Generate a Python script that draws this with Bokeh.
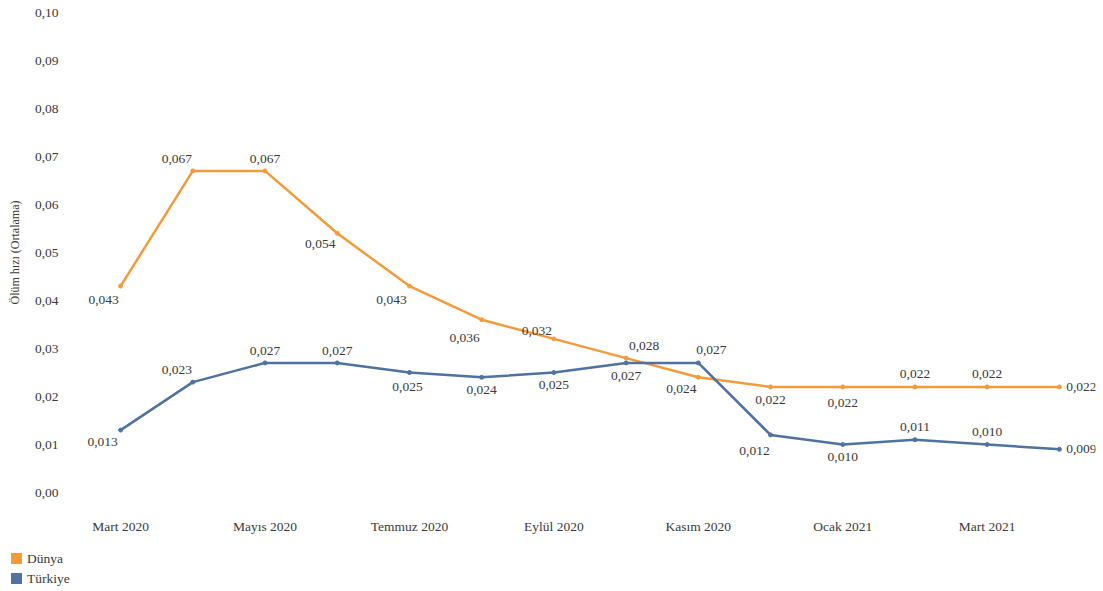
from bokeh.plotting import figure
from bokeh.layouts import column
from bokeh.models import (ColumnDataSource, Range1d, FixedTicker, LabelSet, Div)
from bokeh.embed import file_html
from bokeh.resources import INLINE

months = ["Mart 2020", "Nisan 2020", "Mayıs 2020", "Haziran 2020", "Temmuz 2020",
          "Ağustos 2020", "Eylül 2020", "Ekim 2020", "Kasım 2020", "Aralık 2020",
          "Ocak 2021", "Şubat 2021", "Mart 2021", "Nisan 2021"]
dunya = [0.043, 0.067, 0.067, 0.054, 0.043, 0.036, 0.032, 0.028, 0.024, 0.022,
         0.022, 0.022, 0.022, 0.022]
turkiye = [0.013, 0.023, 0.027, 0.027, 0.025, 0.024, 0.025, 0.027, 0.027, 0.012,
           0.010, 0.011, 0.010, 0.009]
y_ticks = [0.00, 0.01, 0.02, 0.03, 0.04, 0.05, 0.06, 0.07, 0.08, 0.09, 0.10]
series_names = ["Dünya", "Türkiye"]

# label placement (style): pixel offsets for data labels
dunya_dx = [-17, -16, 0, -17, -18, -17, -17, 18, -17, 0, 0, 0, 0, 22]
dunya_dy = [-14, 12, 12, -11, -14, -18, 8, 12, -12, -13, -16, 13, 13, 0]
turk_dx = [-18, -16, 0, 0, -2, 0, 0, 0, 13, -16, 0, 0, 0, 22]
turk_dy = [-12, 12, 12, 12, -14, -13, -12, -13, 13, -16, -12, 13, 13, 0]

ORANGE = "#F39B3A"
BLUE = "#4F72A0"
FONT = "Liberation Serif"
TXT = "#3a3a3a"

xs = list(range(len(months)))

MAIN_H = 536
p = figure(width=1103, height=MAIN_H, output_backend="svg", toolbar_location=None,
           x_range=Range1d(-0.5, len(months) - 0.5), y_range=Range1d(0, 0.10),
           min_border_left=84, min_border_right=8, min_border_top=12,
           min_border_bottom=MAIN_H - 492)
p.outline_line_color = None
p.grid.grid_line_color = None
p.background_fill_color = "white"

src_d = ColumnDataSource(dict(x=xs, y=dunya, t=[f"{v:.3f}".replace(".", ",") for v in dunya],
                              dx=dunya_dx, dy=dunya_dy))
src_t = ColumnDataSource(dict(x=xs, y=turkiye, t=[f"{v:.3f}".replace(".", ",") for v in turkiye],
                              dx=turk_dx, dy=turk_dy))

p.line("x", "y", source=src_d, line_color=ORANGE, line_width=2.5)
p.scatter("x", "y", source=src_d, size=4, color=ORANGE)
p.line("x", "y", source=src_t, line_color=BLUE, line_width=2.5)
p.scatter("x", "y", source=src_t, size=4, color=BLUE)

for src in (src_d, src_t):
    lab = LabelSet(x="x", y="y", text="t", source=src, x_offset="dx", y_offset="dy",
                   text_align="center", text_baseline="middle", text_font=FONT,
                   text_font_size="13.5px", text_color=TXT)
    p.add_layout(lab)

p.xaxis.ticker = FixedTicker(ticks=xs[::2])
p.xaxis.major_label_overrides = {i: months[i] for i in xs}
p.yaxis.ticker = FixedTicker(ticks=y_ticks)
p.yaxis.major_label_overrides = {v: f"{v:.2f}".replace(".", ",") for v in y_ticks}
for ax in (p.xaxis, p.yaxis):
    ax.axis_line_color = None
    ax.major_tick_line_color = None
    ax.minor_tick_line_color = None
    ax.major_label_text_font = FONT
    ax.major_label_text_font_style = "normal"
    ax.major_label_text_font_size = "13.5px"
    ax.major_label_text_color = TXT
p.xaxis.major_label_standoff = 20
p.yaxis.major_label_standoff = 20
p.yaxis.axis_label = "Ölüm hızı (Ortalama)"
p.yaxis.axis_label_text_font = FONT
p.yaxis.axis_label_text_font_style = "normal"
p.yaxis.axis_label_text_font_size = "12px"
p.yaxis.axis_label_text_color = TXT
p.yaxis.axis_label_standoff = 10

# legend strip below the chart
LEG_H = 591 - MAIN_H
rows = ""
for name, col in zip(series_names, [ORANGE, BLUE]):
    rows += (f'<div class="li">'
             f'<span class="sw" style="background:{col}"></span>{name}</div>')
css = (":host, :host * { font-family: 'Liberation Serif', 'Times New Roman', serif !important; }"
       f" .lg {{ font-size: 13.5px; color: {TXT}; padding-left: 11px; padding-top: 13px; }}"
       " .li { height: 20px; line-height: 20px; white-space: nowrap; }"
       " .sw { display: inline-block; width: 11px; height: 11px; margin-right: 5px;"
       " vertical-align: -1px; }")
legend_div = Div(text=f'<div class="lg">{rows}</div>',
                 width=1103, height=LEG_H, margin=(0, 0, 0, 0), stylesheets=[css])

layout = column(p, legend_div, spacing=0)
open("out.html", "w").write(file_html(layout, INLINE))
